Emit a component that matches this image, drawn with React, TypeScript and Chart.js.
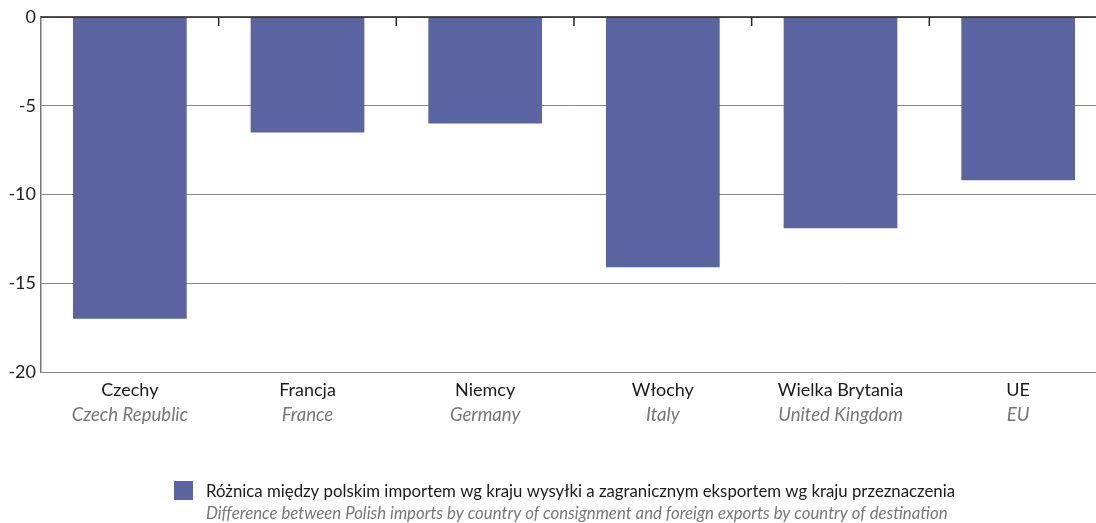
import React, { useEffect, useRef } from "react";
import { Chart, registerables } from "chart.js";

Chart.register(...registerables);

const categoriesPl = ["Czechy", "Francja", "Niemcy", "Włochy", "Wielka Brytania", "UE"];
const categoriesEn = ["Czech Republic", "France", "Germany", "Italy", "United Kingdom", "EU"];
const values = [-17.0, -6.5, -6.0, -14.1, -11.9, -9.2];
const yTicks = [0, -5, -10, -15, -20];
const legendPl = "Różnica między polskim importem wg kraju wysyłki a zagranicznym eksportem wg kraju przeznaczenia";
const legendEn = "Difference between Polish imports by country of consignment and foreign exports by country of destination";

const BAR = "#5A64A0";
const FONT = "Lato, 'Open Sans', sans-serif";

const decorPlugin = {
  id: "decor",
  afterDatasetsDraw(chart: any) {
    const ctx = chart.ctx;
    const x = chart.scales.x;
    const y = chart.scales.y;
    const area = chart.chartArea;
    ctx.save();
    // zero line
    const y0 = y.getPixelForValue(0);
    ctx.strokeStyle = "#222";
    ctx.lineWidth = 1.5;
    ctx.beginPath();
    ctx.moveTo(area.left, y0);
    ctx.lineTo(area.right, y0);
    ctx.stroke();
    // ticks between categories
    ctx.lineWidth = 1.5;
    for (let i = 1; i < categoriesPl.length; i++) {
      const px = (x.getPixelForValue(i - 1) + x.getPixelForValue(i)) / 2;
      ctx.beginPath();
      ctx.moveTo(px, y0);
      ctx.lineTo(px, y0 + 9);
      ctx.stroke();
    }
    // x labels
    ctx.textAlign = "center";
    ctx.textBaseline = "middle";
    categoriesPl.forEach((c, i) => {
      const px = x.getPixelForValue(i);
      ctx.fillStyle = "#1a1a1a";
      ctx.font = `18px ${FONT}`;
      ctx.fillText(c, px, 390);
      ctx.fillStyle = "#777";
      ctx.font = `italic 18.6px ${FONT}`;
      ctx.fillText(categoriesEn[i], px, 415);
    });
    // legend
    ctx.fillStyle = BAR;
    ctx.fillRect(174, 481, 19, 19);
    ctx.textAlign = "left";
    ctx.fillStyle = "#1a1a1a";
    ctx.font = `16.8px ${FONT}`;
    ctx.fillText(legendPl, 206, 492);
    ctx.fillStyle = "#777";
    ctx.font = `italic 16.8px ${FONT}`;
    ctx.fillText(legendEn, 206, 514);
    ctx.restore();
  },
};

export default function App() {
  const ref = useRef<HTMLCanvasElement>(null);
  useEffect(() => {
    document.body.style.margin = "0";
    document.body.style.overflow = "hidden";
    const chart = new Chart(ref.current as HTMLCanvasElement, {
      type: "bar",
      data: {
        labels: categoriesPl,
        datasets: [
          {
            label: legendPl,
            data: values,
            backgroundColor: BAR,
            barPercentage: 0.64,
            categoryPercentage: 1,
          },
        ],
      },
      options: {
        animation: false,
        responsive: false,
        maintainAspectRatio: false,
        layout: { padding: { top: 17, bottom: 151, left: 0, right: 0 } },
        plugins: { legend: { display: false }, tooltip: { enabled: false } },
        scales: {
          x: {
            offset: true,
            grid: { display: false, drawTicks: false },
            border: { display: false },
            ticks: { display: false },
          },
          y: {
            min: -20,
            max: 0,
            afterFit(scale: any) {
              scale.width = 41;
            },
            afterBuildTicks(scale: any) {
              scale.ticks = yTicks.map((v) => ({ value: v }));
            },
            grid: { color: "#888", lineWidth: 1, drawTicks: false },
            border: { display: true, color: "#777", width: 1.5 },
            ticks: {
              padding: 5,
              color: "#222",
              font: { family: FONT, size: 18 },
            },
          },
        },
      },
      plugins: [decorPlugin],
    });
    return () => chart.destroy();
  }, []);
  return (
    <div style={{ position: "fixed", left: 0, top: 0, width: 1096, height: 523, overflow: "hidden", background: "#fff" }}>
      <canvas ref={ref} width={1107} height={523} style={{ width: 1107, height: 523, display: "block" }} />
    </div>
  );
}
